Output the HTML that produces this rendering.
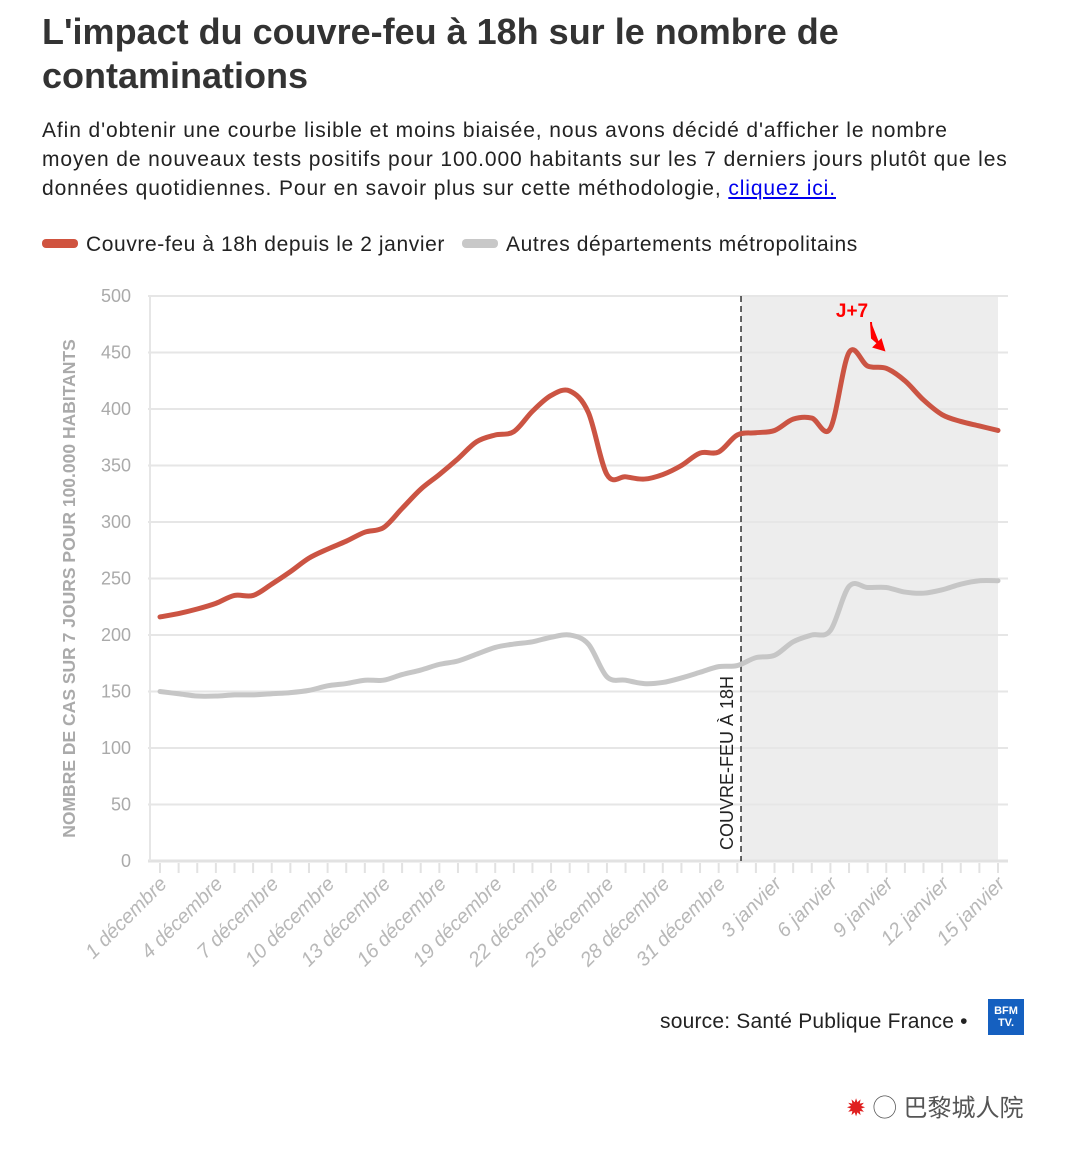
<!DOCTYPE html>
<html><head><meta charset="utf-8"><style>
body{margin:0;background:#fff;width:1080px;height:1152px;overflow:hidden;font-family:"Liberation Sans",sans-serif;color:#222}
h1{position:absolute;left:42px;top:10px;margin:0;font-size:36px;line-height:44px;font-weight:bold;color:#333;letter-spacing:0px}
.sub{position:absolute;left:42px;top:116px;width:1030px;font-size:21px;line-height:29px;color:#222;letter-spacing:0.9px;white-space:nowrap}
.sub a{color:#00e;text-decoration:underline}
.leg{position:absolute;top:233px;font-size:21px;color:#222;letter-spacing:0.6px}
.sw{display:inline-block;width:36px;height:9px;border-radius:4px;vertical-align:middle;margin-right:8px;margin-top:-3px}
.src{position:absolute;left:660px;top:1010px;font-size:21px;color:#222;letter-spacing:0.2px}
</style></head><body>
<h1>L'impact du couvre-feu à 18h sur le nombre de<br>contaminations</h1>
<div class="sub">Afin d'obtenir une courbe lisible et moins biaisée, nous avons décidé d'afficher le nombre<br>moyen de nouveaux tests positifs pour 100.000 habitants sur les 7 derniers jours plutôt que les<br>données quotidiennes. Pour en savoir plus sur cette méthodologie, <a>cliquez ici.</a></div>
<div class="leg" style="left:42px"><span class="sw" style="background:#d0533f"></span>Couvre-feu à 18h depuis le 2 janvier</div>
<div class="leg" style="left:462px"><span class="sw" style="background:#c8c8c8"></span>Autres départements métropolitains</div>
<svg id="chart" width="1080" height="1152" style="position:absolute;left:0;top:0"></svg>
<div class="src">source: Santé Publique France •</div>
<div style="position:absolute;left:988px;top:999px;width:36px;height:36px;background:#1560c0;color:#fff;font-size:11px;font-weight:bold;line-height:12px;text-align:center;padding-top:6px;box-sizing:border-box">BFM<br>TV.</div>
<div style="position:absolute;left:846px;top:1088px;font-size:24px;color:#555;font-family:'Liberation Sans','Noto Sans CJK SC',sans-serif"><span style="color:#e02020">✹</span> ◯ 巴黎城人院</div>
<script>
const labels=["1 décembre","4 décembre","7 décembre","10 décembre","13 décembre","16 décembre","19 décembre","22 décembre","25 décembre","28 décembre","31 décembre","3 janvier","6 janvier","9 janvier","12 janvier","15 janvier"];
const yTicks=[0,50,100,150,200,250,300,350,400,450,500];
const curfewSeries=[216,219,223,228,235,235,245,256,268,276,283,291,295,312,329,342,356,371,377,380,398,412,416,397,342,340,338,342,350,361,362,377,379,381,391,392,383,450,438,436,425,408,395,389,385,381];
const otherSeries=[150,148,146,146,147,147,148,149,151,155,157,160,160,165,169,174,177,183,189,192,194,198,200,192,163,160,157,158,162,167,172,173,180,182,194,200,204,243,242,242,238,237,240,245,248,248];
const curfewIndex=31.2;
const NS="http://www.w3.org/2000/svg",svg=document.getElementById('chart');
const X0=160,X1=998,Y0=861,Y1=296,n=curfewSeries.length;
const x=i=>X0+(X1-X0)*i/(n-1), y=v=>Y0-(Y0-Y1)*v/500;
function mk(t,a,p){const e=document.createElementNS(NS,t);for(const k in a)e.setAttribute(k,a[k]);(p||svg).appendChild(e);return e;}
let r=mk('rect',{x:x(curfewIndex),y:Y1,width:X1-x(curfewIndex),height:Y0-Y1,fill:'#ededed'});


yTicks.forEach(v=>{
 let g=mk('line',{x1:148,x2:1008,y1:y(v),y2:y(v),stroke:v===0?'#e2e2e2':'#e6e6e6','stroke-width':v===0?3:2});
 
 
 let t=mk('text',{x:131,y:y(v)+6,'text-anchor':'end','font-size':18,fill:'#aaa'});t.textContent=v;
 
 
});
mk('line',{x1:150,x2:150,y1:Y1,y2:Y0,stroke:'#e6e6e6','stroke-width':2});
for(let i=0;i<n;i++){let t=mk('line',{x1:x(i),x2:x(i),y1:Y0+2,y2:Y0+12,stroke:'#e2e2e2','stroke-width':2});
 
 }
labels.forEach((l,k)=>{const px=x(k*3)+8,py=Y0+24;
 let t=mk('text',{x:px,y:py,'text-anchor':'end','font-size':20,fill:'#b8b8b8','font-style':'italic',transform:`rotate(-45 ${px} ${py})`});t.textContent=l;
 
 });
let yt=mk('text',{x:0,y:0,'font-size':17.5,'font-weight':'bold',fill:'#aaa','text-anchor':'middle',transform:`translate(75 ${(Y0+Y1)/2+10}) rotate(-90)`});
yt.textContent='NOMBRE DE CAS SUR 7 JOURS POUR 100.000 HABITANTS';


function path(s){let d='';const p=s.map((v,i)=>[x(i),y(v)]);
 d='M'+p[0][0]+','+p[0][1];
 for(let i=0;i<p.length-1;i++){const a=p[Math.max(0,i-1)],b=p[i],c=p[i+1],e=p[Math.min(p.length-1,i+2)];
  d+=`C${b[0]+(c[0]-a[0])/6},${b[1]+(c[1]-a[1])/6} ${c[0]-(e[0]-b[0])/6},${c[1]-(e[1]-b[1])/6} ${c[0]},${c[1]}`;}
 return d;}
let dl=mk('line',{x1:x(curfewIndex),x2:x(curfewIndex),y1:Y1,y2:Y0,stroke:'#333','stroke-width':1.5,'stroke-dasharray':'6,4'});


let ct=mk('text',{x:0,y:0,'font-size':18,fill:'#222',transform:`translate(${x(curfewIndex)-8} 850) rotate(-90)`});ct.textContent='COUVRE-FEU À 18H';


let po=mk('path',{d:path(otherSeries),fill:'none',stroke:'#c6c6c6','stroke-width':5,'stroke-linecap':'round'});


let pc=mk('path',{d:path(curfewSeries),fill:'none',stroke:'#cb5443','stroke-width':5,'stroke-linecap':'round'});


let j=mk('text',{x:852,y:317,'text-anchor':'middle','font-size':19,'font-weight':'bold',fill:'#f00'});j.textContent='J+7';


let ar=mk('path',{d:'M871,322 L872,338 L880,345 M874,347 L884,350 L881,340 Z',stroke:'#f00','stroke-width':2,fill:'#f00'});


</script>
</body></html>
